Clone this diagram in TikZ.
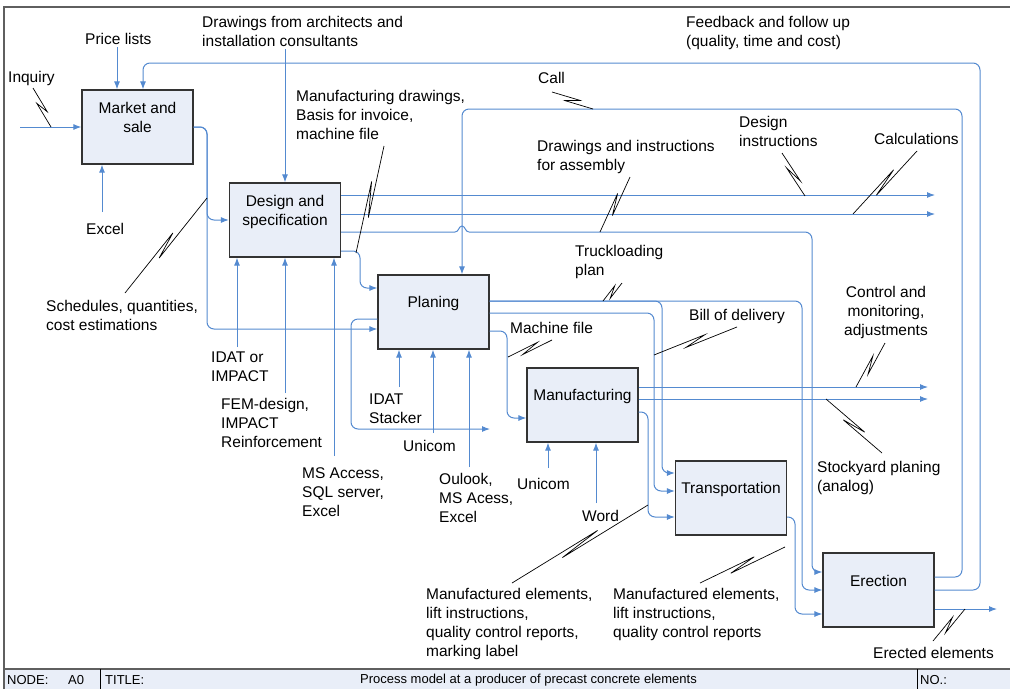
\documentclass[tikz,border=0pt]{standalone}
\usepackage{fontspec}
\setmainfont{Liberation Sans}
\usetikzlibrary{arrows.meta,calc}
\definecolor{flowblue}{RGB}{84,138,208}
\definecolor{boxfill}{RGB}{233,238,248}
\definecolor{framegray}{RGB}{95,95,95}
\newcommand\labfont{\fontsize{15.5}{19}\selectfont}
\newcommand\barfont{\fontsize{13}{15}\selectfont}
\newcommand\zigline[3][9pt]{\draw[lead] (#2) -- ($(#2)!0.5!(#3)!#1!(#3)!3pt!90:(#3)$) -- ($(#2)!0.5!(#3)!-#1!(#3)!3pt!-90:(#3)$) -- (#3);}
\begin{document}
\begin{tikzpicture}[x=1pt,y=-1pt,font=\labfont,
  proc/.style={draw=black!80,fill=boxfill,line width=1.2pt,minimum width=111pt,minimum height=74pt,inner sep=0pt},
  ptext/.style={align=center,inner sep=0pt},
  lbl/.style={align=left,anchor=west,inner sep=0pt},
  flow/.style={draw=flowblue,line width=1pt,rounded corners=7pt,-{Latex[length=8pt,width=6pt]}},
  flowline/.style={draw=flowblue,line width=1pt},
  lead/.style={draw=black,line width=0.7pt}]
\useasboundingbox (0,0) rectangle (1010,689);
% frame and title bar
\fill[boxfill] (4,669) rectangle (1010,689);
\draw[framegray,line width=1.5pt] (4,689) -- (4,7) -- (1010,7);
\draw[framegray,line width=1.5pt] (4,669) -- (1010,669);
\draw[black,line width=1pt] (100,669) -- (100,689);
\draw[black,line width=1pt] (917,669) -- (917,689);
\node[lbl,font=\barfont] (nodelbl) at (7,680) {NODE:};
\node[lbl,font=\barfont] (a0) at (68,680) {A0};
\node[lbl,font=\barfont] (titlelbl) at (105,680) {TITLE:};
\node[font=\barfont,inner sep=0pt] (title) at (528.5,680) {Process model at a producer of precast concrete elements};
\node[lbl,font=\barfont] (nolbl) at (920,680) {NO.:};
% boxes
\node[proc] (ms) at (137.5,127) {};
\node[proc] (ds) at (285,220) {};
\node[proc] (pl) at (433.5,312) {};
\node[proc] (mf) at (582.5,405) {};
\node[proc] (tr) at (731,498) {};
\node[proc] (er) at (878.5,590) {};
\node[ptext] (mst) at (137.5,117) {Market and\\sale};
\node[ptext] (dst) at (285,211.5) {Design and\\specification};
\node[ptext] (plt) at (433.5,303.5) {Planing};
\node[ptext] (mft) at (582.5,396.5) {Manufacturing};
\node[ptext] (trt) at (731,489.5) {Transportation};
\node[ptext] (ert) at (878.5,581) {Erection};
% labels
\node[lbl] (inq) at (8,78.5) {Inquiry};
\node[lbl] (price) at (85,39) {Price lists};
\node[lbl] (dwa) at (202,31) {Drawings from architects and\\installation consultants};
\node[lbl] (excel1) at (86,229) {Excel};
\node[lbl] (mdraw) at (296,114.5) {Manufacturing drawings,\\Basis for invoice,\\machine file};
\node[lbl] (call) at (538,77.5) {Call};
\node[lbl] (fb) at (686,32.5) {Feedback and follow up\\(quality, time and cost)};
\node[lbl] (dia) at (537,156.5) {Drawings and instructions\\for assembly};
\node[lbl] (dins) at (739,131) {Design\\instructions};
\node[lbl] (calc) at (874,139) {Calculations};
\node[lbl] (sched) at (46,315) {Schedules, quantities,\\cost estimations};
\node[lbl] (truck) at (575,262) {Truckloading\\plan};
\node[lbl] (mfile) at (510,328) {Machine file};
\node[lbl] (bill) at (689,316) {Bill of delivery};
\node[align=center,inner sep=0pt] (ctrl) at (886,312) {Control and\\monitoring,\\adjustments};
\node[lbl] (idat1) at (211,367) {IDAT or\\IMPACT};
\node[lbl] (fem) at (221,423) {FEM-design,\\IMPACT\\Reinforcement};
\node[lbl] (idat2) at (369,408.5) {IDAT\\Stacker};
\node[lbl] (uni1) at (403,446) {Unicom};
\node[lbl] (msa) at (302,492) {MS Access,\\SQL server,\\Excel};
\node[lbl] (oul) at (439,497.5) {Oulook,\\MS Acess,\\Excel};
\node[lbl] (uni2) at (517,484) {Unicom};
\node[lbl] (word) at (582,516) {Word};
\node[lbl] (stock) at (817,477.5) {Stockyard planing\\(analog)};
\node[lbl] (mel1) at (426,624) {Manufactured elements,\\lift instructions,\\quality control reports,\\marking label};
\node[lbl] (mel2) at (613,614.5) {Manufactured elements,\\lift instructions,\\quality control reports};
\node[lbl] (erel) at (873,653) {Erected elements};
% inputs and controls
\coordinate (inqS) at (20,127);
\draw[flow] (inqS) -- (ms.west);
\coordinate (priceS) at (117,47);
\draw[flow] (priceS) -- (priceS |- ms.north);
\coordinate (xlS) at (102,212);
\draw[flow] (xlS) -- (xlS |- ms.south);
\coordinate (dwaS) at (285,49);
\draw[flow] (dwaS) -- (ds.north);
% market outputs
\draw[flow] (ms.east) -- (207,127) -- (207,220) -- (ds.west);
\draw[flow] (ms.east) -- (207,127) -- (207,329) -- ([yshift=-17pt]pl.west);
% design outputs
\coordinate (dsO1) at (935,195);
\coordinate (dsO2) at (935,214);
\coordinate (hopL) at (455,232);
\coordinate (hopR) at (469,232);
\draw[flow] ([yshift=25pt]ds.east) -- (dsO1);
\draw[flow] ([yshift=6pt]ds.east) -- (dsO2);
\draw[flowline] ([yshift=-12pt]ds.east) -- (hopL) .. controls (459,232) and (458.5,226) .. (462,226) .. controls (465.5,226) and (465,232) .. (hopR);
\draw[flow] (hopR) -- (812,232) -- (812,572) -- ([yshift=18pt]er.west);
\draw[flow] ([yshift=-31pt]ds.east) -- (360,251) -- (360,288) -- ([yshift=24pt]pl.west);
% planing outputs
\draw[flow] ([yshift=11pt]pl.east) -- (662,301) -- (662,473) -- ([yshift=25pt]tr.west);
\draw[flow] ([yshift=11pt]pl.east) -- (802,301) -- (802,590) -- (er.west);
\draw[flow] ([yshift=-1pt]pl.east) -- (654,313) -- (654,491) -- ([yshift=7pt]tr.west);
\draw[flow] ([yshift=-19pt]pl.east) -- (507,331) -- (507,418) -- ([yshift=-13pt]mf.west);
\coordinate (plFree) at (490,429);
\draw[flow] ([yshift=-7pt]pl.west) -- (351,319) -- (351,429) -- (plFree);
% manufacturing outputs
\coordinate (mfO1) at (928,387);
\coordinate (mfO2) at (928,399);
\draw[flow] ([yshift=18pt]mf.east) -- (mfO1);
\draw[flow] ([yshift=6pt]mf.east) -- (mfO2);
\draw[flow] ([yshift=-7pt]mf.east) -- (648,412) -- (648,517) -- ([yshift=-19pt]tr.west);
% transportation output
\draw[flow] ([yshift=-19pt]tr.east) -- (795,517) -- (795,614) -- ([yshift=-24pt]er.west);
% erection outputs
\coordinate (callTop) at (462,109);
\coordinate (fbTop) at (143,63);
\coordinate (erO) at (997,609);
\draw[flow] ([yshift=13pt]er.east) -- (962,577) -- (962,109) -- (callTop) -- (callTop |- pl.north);
\draw[flow] (er.east) -- (980,590) -- (980,63) -- (fbTop) -- (fbTop |- ms.north);
\draw[flow] ([yshift=-19pt]er.east) -- (erO);
% mechanisms
\coordinate (m1) at (237,347); \draw[flow] (m1) -- (m1 |- ds.south);
\coordinate (m2) at (285,393); \draw[flow] (m2) -- (m2 |- ds.south);
\coordinate (m3) at (334,456); \draw[flow] (m3) -- (m3 |- ds.south);
\coordinate (m4) at (399,387); \draw[flow] (m4) -- (m4 |- pl.south);
\coordinate (m5) at (433,433); \draw[flow] (m5) -- (m5 |- pl.south);
\coordinate (m6) at (469,467); \draw[flow] (m6) -- (m6 |- pl.south);
\coordinate (m7) at (548,468); \draw[flow] (m7) -- (m7 |- mf.south);
\coordinate (m8) at (596,503); \draw[flow] (m8) -- (m8 |- mf.south);
% squiggle leaders
\coordinate (zA1) at (33,88);   \coordinate (zB1) at (51,127);   \zigline[6pt]{zA1}{zB1}
\coordinate (zA2) at (125,293); \coordinate (zB2) at (207,198);  \zigline[14pt]{zA2}{zB2}
\coordinate (zA3) at (552,92);  \coordinate (zB3) at (593,109);  \zigline[7pt]{zA3}{zB3}
\coordinate (zA4) at (384,146); \coordinate (zB4) at (356,253);  \zigline[18pt]{zA4}{zB4}
\coordinate (zA5) at (630,177); \coordinate (zB5) at (600,232);  \zigline[11pt]{zA5}{zB5}
\coordinate (zA6) at (782,153); \coordinate (zB6) at (805,196);  \zigline[9pt]{zA6}{zB6}
\coordinate (zA7) at (917,151); \coordinate (zB7) at (853,214);  \zigline[15pt]{zA7}{zB7}
\coordinate (zA8) at (622,283); \coordinate (zB8) at (603,301);  \zigline[6pt]{zA8}{zB8}
\coordinate (zA9) at (552,340); \coordinate (zB9) at (508,357);  \zigline[9pt]{zA9}{zB9}
\coordinate (zA10) at (737,327); \coordinate (zB10) at (654,355); \zigline[11pt]{zA10}{zB10}
\coordinate (zA11) at (885,343); \coordinate (zB11) at (856,387); \zigline[9pt]{zA11}{zB11}
\coordinate (zA12) at (882,453); \coordinate (zB12) at (826,399); \zigline[12pt]{zA12}{zB12}
\coordinate (zA13) at (512,583); \coordinate (zB13) at (648,505); \zigline[22pt]{zA13}{zB13}
\coordinate (zA14) at (700,583); \coordinate (zB14) at (785,547); \zigline[14pt]{zA14}{zB14}
\coordinate (zA15) at (933,641); \coordinate (zB15) at (965,609); \zigline[8pt]{zA15}{zB15}
\end{tikzpicture}
\end{document}
